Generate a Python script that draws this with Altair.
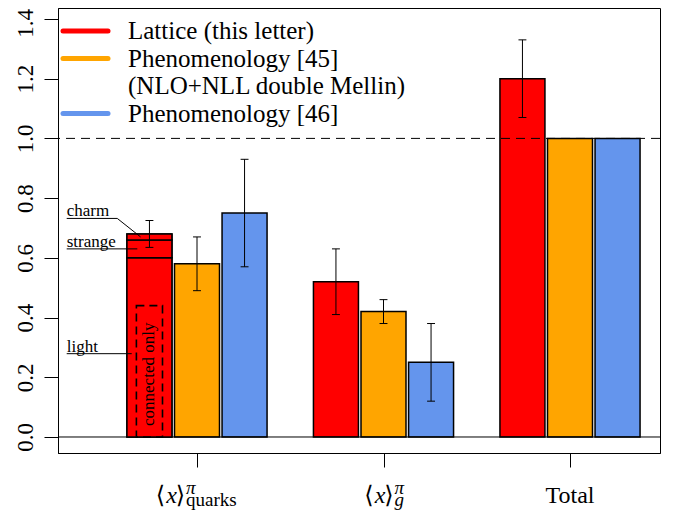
import altair as alt
import pandas as pd

# ---------------- data ----------------
categories = ["quarks", "g", "Total"]
series = ["Lattice (this letter)", "Phenomenology [45]", "Phenomenology [46]"]
colors = ["#FF0000", "#FFA500", "#6495ED"]
lattice = [0.68, 0.52, 1.20]
lattice_err = [0.045, 0.11, 0.13]
pheno45 = [0.58, 0.42, 1.00]
pheno45_err = [0.09, 0.04, None]
pheno46 = [0.75, 0.25, 1.00]
pheno46_err = [0.18, 0.13, None]
quark_parts = ["light", "strange", "charm"]
quark_part_values = [0.60, 0.06, 0.02]
connected_only_light = 0.44
y_ticks = [0.0, 0.2, 0.4, 0.6, 0.8, 1.0, 1.2, 1.4]
legend_labels = ["Lattice (this letter)", "Phenomenology [45]\n(NLO+NLL double Mellin)", "Phenomenology [46]"]
legend_rows = [0, 1, 3]

# ---------------- layout constants ----------------
W, H = 602, 445
PX = 46.625                      # pixels per x unit
GROUP_STEP = 4.0
BAR_STEP = 1.02
HALF = 0.4826
CAP = 0.085
X_DOMAIN = [(58 - 197) / PX, (660 - 197) / PX]
Y_DOMAIN = [-0.0536, 1.4367]
FONT = "Liberation Serif, Times New Roman, DejaVu Serif, serif"

xs = alt.Scale(domain=X_DOMAIN, nice=False, zero=False)
ys = alt.Scale(domain=Y_DOMAIN, nice=False, zero=False)

rows = []
for gi, cat in enumerate(categories):
    for si, (name, vals, errs) in enumerate(zip(series, [lattice, pheno45, pheno46],
                                                [lattice_err, pheno45_err, pheno46_err])):
        c = gi * GROUP_STEP + (si - 1) * BAR_STEP
        rows.append(dict(cat=cat, series=name, c=c, x=c - HALF, x2=c + HALF,
                         v=vals[gi], err=errs[gi]))
bars = pd.DataFrame(rows)
errs = bars.dropna(subset=["err"]).copy()
errs["lo"] = errs["v"] - errs["err"]
errs["hi"] = errs["v"] + errs["err"]
errs["cx"] = errs["c"] - CAP
errs["cx2"] = errs["c"] + CAP

red_c = bars.loc[0, "c"]
segs = []
acc = 0.0
for p, val in zip(quark_parts, quark_part_values):
    segs.append(dict(part=p, x=red_c - HALF, x2=red_c + HALF, y=acc, y2=acc + val))
    acc += val
segs = pd.DataFrame(segs)

# annotation leader lines (data coordinates)
lab_x = (66.7 - 197) / PX
cum = [0.0]
for val in quark_part_values:
    cum.append(cum[-1] + val)
ann_y = {"light": 0.279, "strange": 0.63, "charm": 0.732}
ann_lines = [
    dict(part="light", o=0, x=lab_x, y=ann_y["light"]),
    dict(part="light", o=1, x=red_c - 0.38, y=ann_y["light"]),
    dict(part="strange", o=0, x=lab_x, y=ann_y["strange"]),
    dict(part="strange", o=1, x=red_c - 0.26, y=(cum[1] + cum[2]) / 2),
    dict(part="charm", o=0, x=lab_x, y=ann_y["charm"]),
    dict(part="charm", o=1, x=red_c - 0.69, y=ann_y["charm"]),
    dict(part="charm", o=2, x=red_c - 0.19, y=(cum[2] + cum[3]) / 2),
]
ann_lines = pd.DataFrame(ann_lines)
ann_text = pd.DataFrame([dict(part=p, x=lab_x, y=ann_y[p]) for p in quark_parts])

conn = pd.DataFrame([dict(x=red_c - 0.28, x2=red_c + 0.28, y=0.0, y2=connected_only_light,
                          ty=connected_only_light / 2 - 0.01, tx=red_c, t="connected only")])

hl = pd.DataFrame({"y": [0.0]})
hd = pd.DataFrame({"y": [1.0]})

# legend (pixel positions inside the plot area)
leg = pd.DataFrame(dict(text=legend_labels, color=colors, row=legend_rows))
leg["ly"] = 23 + 27.5 * leg["row"]
leg["lx"] = 5
leg["lx2"] = 50
leg["tx"] = 70
leg["ty"] = leg["ly"] + 8

# x labels
xl = pd.DataFrame(dict(cat=categories, c=[i * GROUP_STEP for i in range(3)]))
split_px = [-12, 10]
xl2 = xl.iloc[:2].copy()
xl2["s"] = [xl2["c"].iloc[i] + split_px[i] / PX for i in range(2)]
xl2["sub"] = ["quarks", "g"]
xl3 = xl.iloc[2:].copy()

XA = alt.Axis(values=[0, 4, 8], labels=False, ticks=True, tickSize=14, tickColor="black",
              domainColor="black", grid=False, title=None)
YA = alt.Axis(values=y_ticks, format=".1f", labelAngle=270, labelAlign="center",
              labelBaseline="alphabetic", labelFont=FONT, labelFontSize=23, labelColor="black",
              labelPadding=12, tickSize=14, tickColor="black", domainColor="black", grid=False,
              title=None, labelFlush=False, labelOverlap=False,
              labelOffset={"condition": {"test": "datum.value > 1.3", "value": 4}, "value": 0})

base_bars = alt.Chart(bars).mark_rect(stroke="black", strokeWidth=1.5).encode(
    x=alt.X("x:Q", scale=xs, axis=XA),
    x2="x2:Q",
    y=alt.Y("v:Q", scale=ys, axis=YA),
    y2=alt.datum(0),
    color=alt.Color("series:N", scale=alt.Scale(domain=series, range=colors), legend=None),
)

zero = alt.Chart(hl).mark_rule(color="black", strokeWidth=1).encode(y=alt.Y("y:Q", scale=ys))
dash = alt.Chart(hd).mark_rule(color="black", strokeWidth=1, strokeDash=[9, 6]).encode(
    y=alt.Y("y:Q", scale=ys))

seg_layer = alt.Chart(segs).mark_rect(fill="#FF0000", stroke="black", strokeWidth=1.5).encode(
    x=alt.X("x:Q", scale=xs), x2="x2:Q", y=alt.Y("y:Q", scale=ys), y2="y2:Q")

conn_rect = alt.Chart(conn).mark_rect(fillOpacity=0, stroke="black", strokeWidth=1.6,
                                      strokeDash=[8, 5]).encode(
    x=alt.X("x:Q", scale=xs), x2="x2:Q", y=alt.Y("y:Q", scale=ys), y2="y2:Q")
conn_text = alt.Chart(conn).mark_text(angle=270, align="center", baseline="middle",
                                      font=FONT, fontSize=17, color="black").encode(
    x=alt.X("tx:Q", scale=xs), y=alt.Y("ty:Q", scale=ys), text="t:N")

err_v = alt.Chart(errs).mark_rule(color="black", strokeWidth=1).encode(
    x=alt.X("c:Q", scale=xs), y=alt.Y("lo:Q", scale=ys), y2="hi:Q")
err_lo = alt.Chart(errs).mark_rule(color="black", strokeWidth=1).encode(
    x=alt.X("cx:Q", scale=xs), x2="cx2:Q", y=alt.Y("lo:Q", scale=ys))
err_hi = alt.Chart(errs).mark_rule(color="black", strokeWidth=1).encode(
    x=alt.X("cx:Q", scale=xs), x2="cx2:Q", y=alt.Y("hi:Q", scale=ys))

ann_l = alt.Chart(ann_lines).mark_line(color="black", strokeWidth=1).encode(
    x=alt.X("x:Q", scale=xs), y=alt.Y("y:Q", scale=ys), detail="part:N", order="o:Q")
ann_t = alt.Chart(ann_text).mark_text(align="left", baseline="alphabetic", dy=-2,
                                      font=FONT, fontSize=17, color="black").encode(
    x=alt.X("x:Q", scale=xs), y=alt.Y("y:Q", scale=ys), text="part:N")

leg_rule = alt.Chart(leg).mark_rule(strokeWidth=5, strokeCap="round").encode(
    x=alt.X("lx:Q", scale=None), x2="lx2:Q", y=alt.Y("ly:Q", scale=None),
    color=alt.Color("color:N", scale=None))
leg_text = alt.Chart(leg).mark_text(align="left", baseline="alphabetic", font=FONT,
                                    fontSize=25, color="black", lineBreak="\n",
                                    lineHeight=27.5).encode(
    x=alt.X("tx:Q", scale=None), y=alt.Y("ty:Q", scale=None), text="text:N")

LAB_Y = 494.5
rangle = alt.Chart(xl2).mark_text(text="\u27e9", align="right", baseline="alphabetic",
                                  font=FONT, fontSize=24, color="black").encode(
    x=alt.X("s:Q", scale=xs), y=alt.value(LAB_Y))
xit = alt.Chart(xl2).mark_text(text="x", align="right", baseline="alphabetic", dx=-8,
                               font=FONT, fontSize=24, fontStyle="italic", color="black").encode(
    x=alt.X("s:Q", scale=xs), y=alt.value(LAB_Y))
langle = alt.Chart(xl2).mark_text(text="\u27e8", align="right", baseline="alphabetic", dx=-20,
                                  font=FONT, fontSize=24, color="black").encode(
    x=alt.X("s:Q", scale=xs), y=alt.value(LAB_Y))
sup = alt.Chart(xl2).mark_text(text="\u03c0", align="left", baseline="alphabetic", dx=1,
                               font=FONT, fontSize=19, fontStyle="italic", color="black").encode(
    x=alt.X("s:Q", scale=xs), y=alt.value(485.5))
sub_q = alt.Chart(xl2.iloc[:1]).mark_text(align="left", baseline="alphabetic", dx=1,
                                          font=FONT, fontSize=19, color="black").encode(
    x=alt.X("s:Q", scale=xs), y=alt.value(498), text="sub:N")
sub_g = alt.Chart(xl2.iloc[1:]).mark_text(align="left", baseline="alphabetic", dx=1,
                                          font=FONT, fontSize=19, fontStyle="italic",
                                          color="black").encode(
    x=alt.X("s:Q", scale=xs), y=alt.value(498), text="sub:N")
total = alt.Chart(xl3).mark_text(align="center", baseline="alphabetic", font=FONT,
                                 fontSize=24, color="black").encode(
    x=alt.X("c:Q", scale=xs), y=alt.value(LAB_Y), text="cat:N")

chart = alt.layer(
    base_bars, zero, dash, seg_layer, conn_rect, conn_text, err_v, err_lo, err_hi,
    ann_l, ann_t, leg_rule, leg_text, rangle, xit, langle, sup, sub_q, sub_g, total,
).properties(
    width=W, height=H,
    autosize=alt.AutoSizeParams(type="none"),
    padding={"left": 50, "top": 0, "right": 9, "bottom": 60},
    background="white",
).configure_view(stroke="black", strokeWidth=1)

chart.save("out.html", embed_options={"renderer": "svg", "actions": False})
